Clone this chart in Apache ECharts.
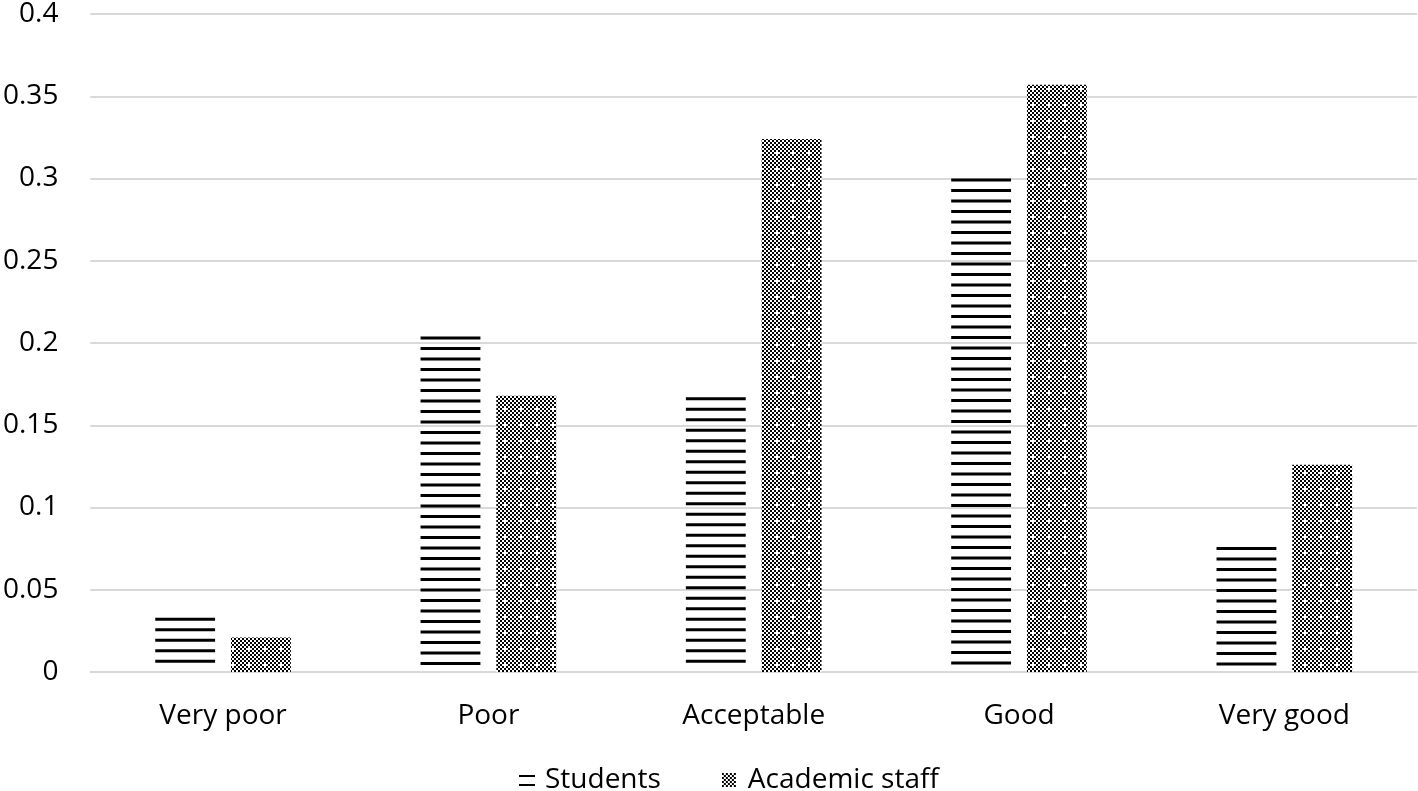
<!DOCTYPE html>
<html>
<head>
<meta charset="utf-8">
<script src="https://cdn.jsdelivr.net/npm/echarts@6/dist/echarts.min.js"></script>
<style>
html,body{margin:0;padding:0;background:#fff;}
#chart{width:1418px;height:791px;}
</style>
</head>
<body>
<div id="chart"></div>
<script>
const categories = ['Very poor', 'Poor', 'Acceptable', 'Good', 'Very good'];
const students = [0.033, 0.204, 0.167, 0.300, 0.076];
const academicStaff = [0.021, 0.168, 0.324, 0.357, 0.126];
const yTicks = [0, 0.05, 0.1, 0.15, 0.2, 0.25, 0.3, 0.35, 0.4];

const FONT = '"Open Sans", "Liberation Sans", sans-serif';

// checker pattern tile
function makeChecker(size) {
  const c = document.createElement('canvas');
  c.width = size; c.height = size;
  const g = c.getContext('2d');
  g.fillStyle = '#fff'; g.fillRect(0, 0, size, size);
  g.fillStyle = '#000';
  for (let y = 0; y < size; y += 2) {
    for (let x = 0; x < size; x += 2) {
      if (((x / 2) + (y / 2)) % 2 === 0) g.fillRect(x, y, 2, 2);
    }
  }
  return c;
}
function makeStaffTile() {
  const c = makeChecker(16);
  const g = c.getContext('2d');
  g.fillStyle = '#fff';
  // one white plus per tile
  g.fillRect(8, 8, 2, 2); g.fillRect(6, 8, 2, 2); g.fillRect(10, 8, 2, 2); g.fillRect(8, 6, 2, 2); g.fillRect(8, 10, 2, 2);
  return c;
}
const staffTile = makeStaffTile();

function studentIcon() {
  const c = document.createElement('canvas');
  c.width = 21; c.height = 18;
  const g = c.getContext('2d');
  g.fillStyle = '#000';
  g.fillRect(0, 4, 16, 2);
  g.fillRect(0, 13, 16, 2);
  return c.toDataURL();
}
function staffIcon() {
  const c = document.createElement('canvas');
  c.width = 21; c.height = 18;
  const g = c.getContext('2d');
  g.drawImage(makeChecker(14), 0, 2);
  return c.toDataURL();
}

const BAR_FRAC = 0.2256;
const GAP_FRAC = 0.030;

function renderStudents(params, api) {
  const ci = api.value(0);
  const v = api.value(1);
  const top = api.coord([ci, v]);
  const base = api.coord([ci, 0]);
  const band = api.size([1, 0])[0];
  const w = band * BAR_FRAC;
  const x = top[0] - band * GAP_FRAC - w;
  const children = [];
  for (let y = top[1]; y + 3 <= base[1] - 2; y += 10.5) {
    children.push({ type: 'rect', shape: { x: x, y: y, width: w, height: 3 }, style: { fill: '#000' } });
  }
  return { type: 'group', children: children };
}
function renderStaff(params, api) {
  const ci = api.value(0);
  const v = api.value(1);
  const top = api.coord([ci, v]);
  const base = api.coord([ci, 0]);
  const band = api.size([1, 0])[0];
  const w = band * BAR_FRAC;
  const x = top[0] + band * GAP_FRAC;
  return {
    type: 'rect',
    shape: { x: x, y: top[1], width: w, height: base[1] - top[1] },
    style: { fill: { image: staffTile, repeat: 'repeat' } }
  };
}

const chart = echarts.init(document.getElementById('chart'), null, { renderer: 'canvas' });
chart.setOption({
  animation: false,
  backgroundColor: '#fff',
  grid: { left: 87, right: 1, top: 12, bottom: 119, containLabel: false },
  legend: {
    bottom: -3,
    left: 519,
    padding: 0,
    itemWidth: 21,
    itemHeight: 18,
    itemGap: 61,
    textStyle: { fontFamily: FONT, fontSize: 28, color: '#000' },
    data: [
      { name: 'Students', icon: 'image://' + studentIcon() },
      { name: 'Academic staff', icon: 'image://' + staffIcon() }
    ]
  },
  xAxis: {
    type: 'category',
    data: categories,
    axisLine: { show: true, lineStyle: { color: '#d9d9d9', width: 2 } },
    axisTick: { show: false },
    axisLabel: { fontFamily: FONT, fontSize: 28, color: '#000', margin: 30 }
  },
  yAxis: {
    type: 'value',
    min: yTicks[0],
    max: yTicks[yTicks.length - 1],
    interval: yTicks[1] - yTicks[0],
    axisLine: { show: false },
    axisTick: { show: false },
    splitLine: { lineStyle: { color: '#d9d9d9', width: 2 } },
    axisLabel: { fontFamily: FONT, fontSize: 28, color: '#000', margin: 32 }
  },
  series: [
    {
      name: 'Students',
      type: 'custom',
      renderItem: renderStudents,
      encode: { x: 0, y: 1 },
      itemStyle: { color: '#000' },
      data: categories.map((c, i) => [i, students[i]])
    },
    {
      name: 'Academic staff',
      type: 'custom',
      renderItem: renderStaff,
      encode: { x: 0, y: 1 },
      itemStyle: { color: '#555' },
      data: categories.map((c, i) => [i, academicStaff[i]])
    }
  ]
});
</script>
</body>
</html>
